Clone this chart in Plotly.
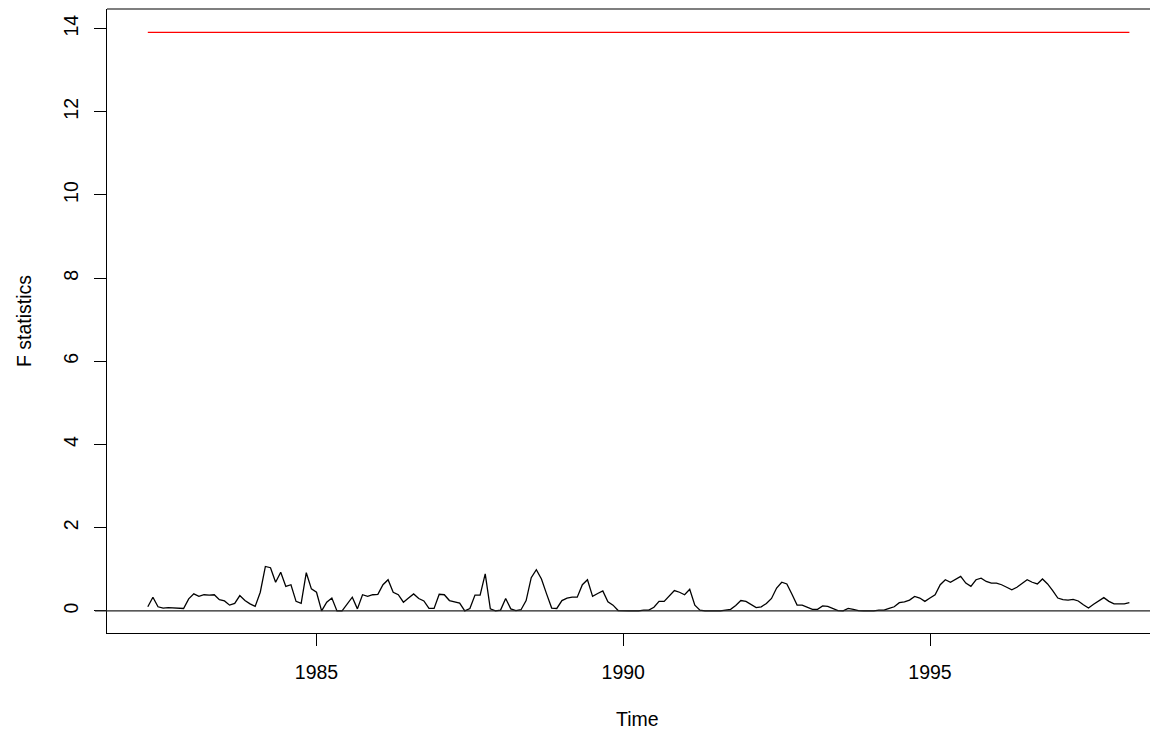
import plotly.graph_objects as go

# Monthly series, April 1982 .. April 1998
start_year = 1982
start_month = 4
fstats = [
    0.10, 0.33, 0.10, 0.07, 0.08, 0.07, 0.07, 0.06, 0.29, 0.41,
    0.35, 0.39, 0.38, 0.39, 0.27, 0.24, 0.14, 0.18, 0.37, 0.25,
    0.17, 0.11, 0.45, 1.07, 1.04, 0.69, 0.93, 0.59, 0.63, 0.23,
    0.18, 0.92, 0.53, 0.45, 0.00, 0.21, 0.31, 0.00, 0.00, 0.18,
    0.33, 0.05, 0.39, 0.35, 0.39, 0.40, 0.63, 0.75, 0.45, 0.39,
    0.21, 0.31, 0.41, 0.30, 0.24, 0.06, 0.06, 0.40, 0.39, 0.25,
    0.22, 0.19, 0.00, 0.06, 0.38, 0.38, 0.89, 0.05, 0.00, 0.02,
    0.30, 0.05, 0.01, 0.03, 0.25, 0.80, 0.99, 0.77, 0.41, 0.07,
    0.06, 0.25, 0.31, 0.33, 0.33, 0.63, 0.75, 0.35, 0.42, 0.48,
    0.22, 0.14, 0.01, 0.00, 0.00, 0.00, 0.00, 0.02, 0.02, 0.09,
    0.23, 0.23, 0.37, 0.49, 0.45, 0.39, 0.52, 0.14, 0.02, 0.00,
    0.00, 0.00, 0.00, 0.02, 0.04, 0.13, 0.25, 0.23, 0.15, 0.08,
    0.10, 0.18, 0.30, 0.55, 0.69, 0.65, 0.40, 0.14, 0.14, 0.09,
    0.04, 0.04, 0.12, 0.11, 0.06, 0.01, 0.00, 0.06, 0.04, 0.01,
    0.00, 0.00, 0.00, 0.02, 0.02, 0.06, 0.10, 0.20, 0.22, 0.26,
    0.35, 0.31, 0.23, 0.31, 0.39, 0.63, 0.75, 0.69, 0.75, 0.83,
    0.67, 0.59, 0.75, 0.79, 0.71, 0.67, 0.67, 0.63, 0.57, 0.51,
    0.57, 0.67, 0.75, 0.69, 0.65, 0.77, 0.65, 0.49, 0.31, 0.27,
    0.26, 0.28, 0.24, 0.15, 0.07, 0.16, 0.24, 0.32, 0.23, 0.17,
    0.17, 0.17, 0.20,
]
boundary = 13.91
x_ticks = [1985, 1990, 1995]
y_ticks = [0, 2, 4, 6, 8, 10, 12, 14]
x_title = "Time"
y_title = "F statistics"

time = [start_year + (start_month - 1 + i) / 12 for i in range(len(fstats))]

FONT = "Liberation Sans, Arial, Helvetica, sans-serif"
FS = 19.5

fig = go.Figure()
fig.add_trace(go.Scatter(x=time, y=fstats, mode="lines",
                         line=dict(color="black", width=1.3), showlegend=False,
                         hoverinfo="skip"))
fig.add_trace(go.Scatter(x=[time[0], time[-1]], y=[boundary, boundary], mode="lines",
                         line=dict(color="red", width=1.3), showlegend=False,
                         hoverinfo="skip"))

# zero reference line (extends slightly left of the frame, as in the original)
fig.add_shape(type="line", xref="paper", yref="y", x0=-0.0115, x1=1, y0=0, y1=0,
              line=dict(color="#222222", width=1.2), layer="above")
# top frame line
fig.add_shape(type="line", xref="paper", yref="paper", x0=0, x1=1, y0=1, y1=1,
              line=dict(color="black", width=1.2))

fig.update_layout(
    width=1150, height=730,
    margin=dict(l=107, r=0, t=9, b=97, autoexpand=False),
    paper_bgcolor="white", plot_bgcolor="white",
    font=dict(family=FONT, size=FS, color="black"),
    xaxis=dict(range=[1981.585, 1998.586], tickvals=x_ticks,
               ticktext=[str(v) for v in x_ticks],
               showgrid=False, zeroline=False, showline=True, linecolor="black",
               linewidth=1.2, ticks="outside", ticklen=12, tickwidth=1.2,
               tickcolor="black", ticklabelstandoff=9,
               tickfont=dict(family=FONT, size=FS, color="black")),
    yaxis=dict(range=[-0.53, 14.47], tickvals=y_ticks,
               ticktext=[str(v) for v in y_ticks],
               showgrid=False, zeroline=False, showline=True, linecolor="black",
               linewidth=1.2, ticks="outside", ticklen=12, tickwidth=1.2,
               tickcolor="black", tickangle=-90, ticklabelstandoff=8,
               tickfont=dict(family=FONT, size=FS, color="black")),
    annotations=[
        dict(text=x_title, xref="paper", yref="paper", x=0.5086, y=-0.1378,
             xanchor="center", yanchor="middle", showarrow=False,
             font=dict(family=FONT, size=FS, color="black")),
        dict(text=y_title, xref="paper", yref="paper", x=-0.0796, y=0.5,
             xanchor="center", yanchor="middle", showarrow=False, textangle=-90,
             font=dict(family=FONT, size=FS, color="black")),
    ],
)

fig.write_html(
    "out.html",
    config={"displayModeBar": False},
    post_script="document.body.style.margin='0';document.body.style.padding='0';"
                "document.body.style.overflow='hidden';"
                "document.documentElement.style.overflow='hidden';",
)
